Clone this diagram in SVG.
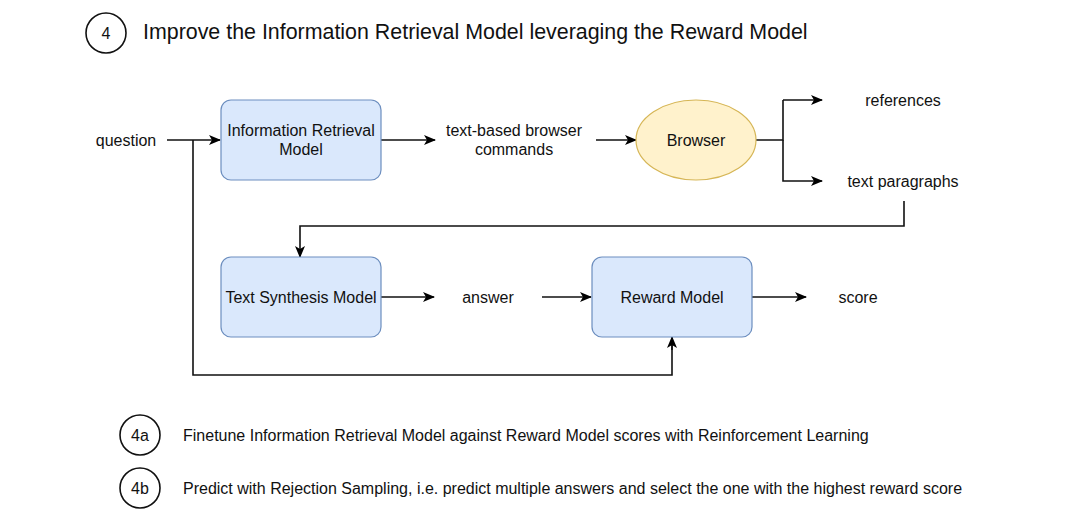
<svg xmlns="http://www.w3.org/2000/svg" width="1086" height="516" viewBox="0 0 1086 516">
<defs>
<marker id="ah" viewBox="0 0 12 12" refX="11" refY="6" markerWidth="12" markerHeight="12" markerUnits="userSpaceOnUse" orient="auto">
<path d="M0,1 L12,6 L0,11 L3,6 Z" fill="#000"/>
</marker>
</defs>
<style>
text{font-family:"Liberation Sans",Arial,sans-serif;fill:#111}
.t{font-size:16px}
.box{fill:#dae8fc;stroke:#6c8ebf;stroke-width:1.2}
.ell{fill:#fff2cc;stroke:#d6b656;stroke-width:1.2}
.c{fill:none;stroke:#111;stroke-width:1.6}
.ln{fill:none;stroke:#111;stroke-width:1.6}
.ar{fill:none;stroke:#111;stroke-width:1.6;marker-end:url(#ah)}
</style>
<rect width="1086" height="516" fill="#fff"/>
<g id="title">
<circle class="c" cx="106" cy="33" r="20"/>
<text x="106" y="39" font-size="16" text-anchor="middle">4</text>
<text x="143" y="39" font-size="21.4">Improve the Information Retrieval Model leveraging the Reward Model</text>
</g>
<g id="connectors">
<path class="ar" d="M167,140 H220"/>
<path class="ln" d="M193,140 V375 H672 V339"/>
<path class="ar" d="M672,350 V337"/>
<path class="ar" d="M381,140 H435"/>
<path class="ar" d="M596,140 H636"/>
<path class="ln" d="M756,140 H783 V100"/>
<path class="ar" d="M783,100 H822"/>
<path class="ar" d="M783,140 V181 H822"/>
<path class="ar" d="M904,201 V226 H300 V257"/>
<path class="ar" d="M381,297 H434"/>
<path class="ar" d="M542,297 H591"/>
<path class="ar" d="M752,297 H806"/>
</g>
<g id="question"><text class="t" x="126" y="146" text-anchor="middle">question</text></g>
<g id="ir">
<rect class="box" x="221" y="100" width="160" height="80" rx="10"/>
<text class="t" x="301" y="136" text-anchor="middle">Information Retrieval</text>
<text class="t" x="301" y="155" text-anchor="middle">Model</text>
</g>
<g id="cmds">
<text class="t" x="514" y="136" text-anchor="middle">text-based browser</text>
<text class="t" x="514" y="155" text-anchor="middle">commands</text>
</g>
<g id="browser">
<ellipse class="ell" cx="696" cy="140" rx="60" ry="40"/>
<text class="t" x="696" y="146" text-anchor="middle">Browser</text>
</g>
<g id="references"><text class="t" x="903" y="106" text-anchor="middle">references</text></g>
<g id="paragraphs"><text class="t" x="903" y="187" text-anchor="middle">text paragraphs</text></g>
<g id="synth">
<rect class="box" x="221" y="257" width="160" height="80" rx="10"/>
<text class="t" x="301" y="303" text-anchor="middle">Text Synthesis Model</text>
</g>
<g id="answer"><text class="t" x="488" y="303" text-anchor="middle">answer</text></g>
<g id="reward">
<rect class="box" x="592" y="257" width="160" height="80" rx="10"/>
<text class="t" x="672" y="303" text-anchor="middle">Reward Model</text>
</g>
<g id="score"><text class="t" x="858" y="303" text-anchor="middle">score</text></g>
<g id="note4a">
<circle class="c" cx="140" cy="435" r="20"/>
<text class="t" x="140" y="441" text-anchor="middle">4a</text>
<text class="t" x="183" y="441">Finetune Information Retrieval Model against Reward Model scores with Reinforcement Learning</text>
</g>
<g id="note4b">
<circle class="c" cx="140" cy="488" r="20"/>
<text class="t" x="140" y="494" text-anchor="middle">4b</text>
<text class="t" x="183" y="494">Predict with Rejection Sampling, i.e. predict multiple answers and select the one with the highest reward score</text>
</g>
</svg>
